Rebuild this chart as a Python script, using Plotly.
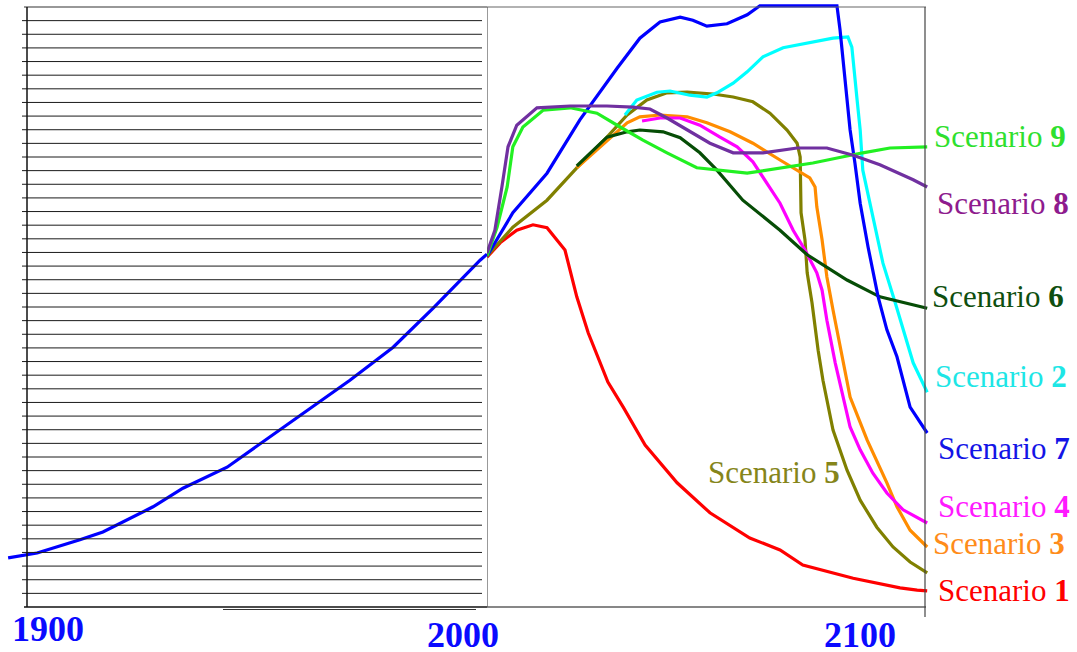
import plotly.graph_objects as go

# ---------------- data (years, index value 0..100 of chart height) ----------------
hist_years = [1895.9, 1902.2, 1911.5, 1916.5, 1927.4, 1933.9, 1943.5, 1954.3, 1963.0, 1970.2, 1979.6, 1988.3, 1998.5, 2000.0]
hist_vals = [8.2, 9.0, 11.2, 12.5, 16.7, 19.8, 23.3, 29.2, 34.0, 37.8, 43.3, 49.8, 57.8, 58.8]

s1_years = [2000, 2003.0, 2006.8, 2010.5, 2013.7, 2017.8, 2020.5, 2023.1, 2027.6, 2031.1, 2036.1, 2043.4, 2050.9, 2060.0, 2066.9, 2072.1, 2083.6, 2094.3, 2098.2, 2100.5]
s1_vals = [58.3, 60.7, 62.8, 63.7, 63.2, 59.5, 51.7, 45.7, 37.5, 33.3, 27.0, 20.7, 15.7, 11.5, 9.5, 7.0, 4.8, 3.2, 2.8, 2.7]

s2_years = [2031.5, 2034.2, 2038.8, 2041.8, 2046.3, 2050.2, 2052.5, 2056.2, 2059.4, 2063.0, 2067.6, 2074.4, 2079.0, 2082.4, 2083.3, 2084.5, 2085.2, 2085.8, 2087.9, 2090.4, 2093.2, 2095.0, 2097.3, 2100.5]
s2_vals = [82.0, 84.5, 85.8, 86.0, 85.3, 85.0, 85.7, 87.3, 89.2, 91.7, 93.2, 94.2, 94.8, 95.0, 93.3, 84.5, 79.5, 72.8, 65.7, 57.3, 50.7, 46.2, 40.7, 35.8]

s3_years = [2020.5, 2027.4, 2032.0, 2034.9, 2039.5, 2045.7, 2050.2, 2055.5, 2060.7, 2066.9, 2070.8, 2073.7, 2074.9, 2075.3, 2076.5, 2077.6, 2079.0, 2080.6, 2082.9, 2086.8, 2091.3, 2093.6, 2096.6, 2100.5]
s3_vals = [73.2, 77.8, 80.7, 81.7, 82.0, 81.7, 80.7, 79.2, 77.3, 74.5, 72.8, 71.5, 70.0, 66.7, 61.2, 55.0, 49.5, 43.3, 35.0, 27.8, 20.7, 16.7, 12.8, 10.0]

s4_years = [2035.4, 2039.5, 2044.1, 2048.6, 2053.2, 2057.1, 2060.7, 2063.0, 2066.9, 2069.9, 2072.6, 2075.3, 2076.5, 2077.6, 2078.8, 2079.5, 2082.9, 2085.2, 2088.1, 2091.3, 2095.0, 2100.5]
s4_vals = [81.0, 81.5, 81.5, 80.3, 78.3, 76.7, 74.2, 71.7, 67.3, 62.8, 59.5, 55.7, 52.8, 47.8, 43.3, 40.7, 30.0, 26.2, 22.3, 19.0, 16.2, 14.0]

s5_years = [2000, 2005.9, 2013.7, 2020.5, 2027.4, 2032.0, 2036.5, 2041.1, 2045.7, 2051.6, 2056.2, 2060.7, 2064.6, 2068.5, 2070.8, 2071.5, 2071.7, 2072.6, 2073.1, 2074.2, 2075.6, 2076.7, 2079.0, 2082.2, 2085.2, 2089.0, 2092.7, 2096.6, 2100.5]
s5_vals = [58.5, 63.3, 67.8, 73.2, 78.3, 82.0, 84.5, 85.7, 85.8, 85.5, 85.0, 84.2, 82.3, 79.5, 77.3, 75.0, 65.7, 61.2, 55.7, 50.7, 42.8, 37.8, 29.5, 22.8, 17.8, 13.3, 10.0, 7.5, 5.7]

s6_years = [2020.5, 2027.4, 2032.0, 2034.9, 2040.2, 2044.1, 2048.6, 2052.5, 2058.4, 2066.9, 2073.1, 2082.2, 2089.7, 2100.5]
s6_vals = [73.5, 78.3, 79.2, 79.5, 79.2, 78.2, 75.7, 72.8, 67.8, 62.8, 58.7, 54.5, 51.7, 49.8]

s7_years = [2000, 2005.9, 2013.7, 2021.2, 2029.7, 2034.9, 2039.5, 2044.1, 2047.0, 2050.2, 2054.8, 2059.4, 2062.3, 2079.9, 2080.6, 2082.2, 2082.9, 2084.0, 2085.2, 2087.0, 2089.3, 2091.3, 2093.6, 2096.6, 2100.5]
s7_vals = [58.5, 65.7, 72.3, 81.2, 89.8, 94.8, 97.5, 98.3, 97.8, 96.8, 97.2, 98.7, 100.2, 100.2, 96.2, 84.5, 79.5, 74.0, 67.3, 60.0, 51.7, 46.2, 41.7, 33.3, 29.0]

s8_years = [2000, 2001.8, 2003.4, 2004.8, 2006.8, 2011.4, 2019.0, 2027.4, 2033.3, 2037.2, 2041.1, 2045.7, 2050.9, 2056.2, 2063.0, 2070.8, 2077.6, 2083.6, 2089.7, 2097.3, 2100.5]
s8_vals = [59.0, 62.8, 70.0, 76.7, 80.3, 83.2, 83.5, 83.5, 83.3, 83.0, 81.5, 79.5, 77.3, 75.7, 75.7, 76.5, 76.5, 75.3, 73.7, 71.2, 70.0]

s9_years = [2000, 2002.3, 2004.6, 2005.9, 2008.2, 2012.8, 2019.0, 2025.1, 2030.4, 2035.6, 2041.1, 2047.9, 2059.4, 2066.9, 2074.4, 2085.8, 2092.0, 2100.5]
s9_vals = [58.5, 63.3, 70.0, 76.7, 80.0, 82.8, 83.2, 82.3, 80.0, 77.8, 75.7, 73.2, 72.3, 73.2, 74.0, 75.7, 76.5, 76.7]

tick_labels = ["1900", "2000", "2100"]
scenario_word = "Scenario"

# ---------------- styling ----------------
W, H = 1077, 652
PX_L = 4.6     # px per year, historical panel
PX_R = 4.38    # px per year, scenario panel
X1900 = 27
X2000 = 487

colors = {
    "hist": "#0000FF",
    1: "#FF0000", 2: "#00FFFF", 3: "#FF8C00", 4: "#FF00FF", 5: "#808000",
    6: "#064D06", 7: "#0000FF", 8: "#7030A0", 9: "#22F022",
}
label_colors = {
    1: "#FF0000", 2: "#1EE6E6", 3: "#FF8C1A", 4: "#FF19FF", 5: "#85851A",
    6: "#0F4F0F", 7: "#1414E6", 8: "#8E1B8E", 9: "#2EE02E",
}

series = {
    1: (s1_years, s1_vals), 2: (s2_years, s2_vals), 3: (s3_years, s3_vals),
    4: (s4_years, s4_vals), 5: (s5_years, s5_vals), 6: (s6_years, s6_vals),
    7: (s7_years, s7_vals), 8: (s8_years, s8_vals), 9: (s9_years, s9_vals),
}
draw_order = [1, 5, 3, 4, 2, 6, 7, 9, 8]

fig = go.Figure()

fig.add_trace(go.Scatter(x=hist_years, y=hist_vals, mode="lines",
                         line=dict(color=colors["hist"], width=3.2),
                         xaxis="x", yaxis="y", hoverinfo="skip"))
for k in draw_order:
    xs, ys = series[k]
    fig.add_trace(go.Scatter(x=xs, y=ys, mode="lines",
                             line=dict(color=colors[k], width=3.2),
                             xaxis="x2", yaxis="y", hoverinfo="skip",
                             name=f"{scenario_word} {k}"))

# pixel -> value helpers for decoration placement
def vy(py):
    return (607 - py) / 6.0

def yl(px):
    return 1900 + (px - X1900) / PX_L

def yr(px):
    return 2000 + (px - X2000) / PX_R

shapes = []
# ruled horizontal lines in the historical panel
n_rules = 44
for k in range(1, n_rules):
    yv = k * 100.0 / n_rules
    shapes.append(dict(type="line", xref="x", yref="y", x0=yl(22), x1=yl(482), y0=yv, y1=yv,
                       line=dict(color="#1a1a1a", width=1)))
# box borders
shapes.append(dict(type="line", xref="x", yref="y", x0=yl(24), x1=2000, y0=100, y1=100,
                   line=dict(color="#333333", width=1.2)))
shapes.append(dict(type="line", xref="x2", yref="y", x0=2000, x1=yr(926), y0=100, y1=100,
                   line=dict(color="#666666", width=1.2)))
shapes.append(dict(type="line", xref="x", yref="y", x0=1900, x1=1900, y0=0, y1=100,
                   line=dict(color="#111111", width=1.5)))
shapes.append(dict(type="line", xref="x", yref="y", x0=yl(24), x1=2000, y0=0, y1=0,
                   line=dict(color="#111111", width=1.5)))
shapes.append(dict(type="line", xref="x2", yref="y", x0=2000, x1=yr(926), y0=0, y1=0,
                   line=dict(color="#111111", width=1.2)))
shapes.append(dict(type="line", xref="x2", yref="y", x0=2000, x1=2000, y0=0, y1=100,
                   line=dict(color="#555555", width=1.2)))
shapes.append(dict(type="line", xref="x2", yref="y", x0=2100, x1=2100, y0=vy(617), y1=100,
                   line=dict(color="#444444", width=1.2)))
shapes.append(dict(type="line", xref="x", yref="y", x0=yl(223), x1=yl(476), y0=vy(609.5), y1=vy(609.5),
                   line=dict(color="#333333", width=1)))

annotations = []
tick_pos = [(47.5, 628.5), (463, 634.5), (860, 634.5)]
for txt, (px, py) in zip(tick_labels, tick_pos):
    annotations.append(dict(text=f"<b>{txt}</b>", x=px / W, y=1 - py / H, xref="paper", yref="paper",
                            xanchor="center", yanchor="middle", showarrow=False,
                            font=dict(family="Liberation Serif", size=36, color="#0A0AFF")))

label_pos = {9: (934, 136), 8: (937, 204), 6: (932, 297), 2: (935, 376), 7: (938, 448),
             4: (938, 507), 3: (933, 543), 1: (938, 590), 5: (708, 472)}
for k, (px, py) in label_pos.items():
    annotations.append(dict(text=f"{scenario_word} <b>{k}</b>", x=(px - 2) / W, y=1 - py / H,
                            xref="paper", yref="paper", xanchor="left", yanchor="middle",
                            showarrow=False,
                            font=dict(family="Liberation Serif", size=31, color=label_colors[k])))

fig.update_layout(
    width=W, height=H,
    margin=dict(l=0, r=0, t=0, b=0),
    paper_bgcolor="white", plot_bgcolor="white",
    showlegend=False,
    xaxis=dict(domain=[0, X2000 / W], range=[1900 - X1900 / PX_L, 2000], visible=False, fixedrange=True),
    xaxis2=dict(domain=[X2000 / W, 1], range=[2000, 2000 + (W - X2000) / PX_R], visible=False,
                anchor="y", fixedrange=True),
    yaxis=dict(domain=[0, 1], range=[(607 - H) / 6.0, 607 / 6.0], visible=False, fixedrange=True),
    shapes=shapes,
    annotations=annotations,
)

fig.write_html("out.html", config={"displayModeBar": False},
               post_script="document.body.style.margin='0';document.body.style.overflow='hidden';")
